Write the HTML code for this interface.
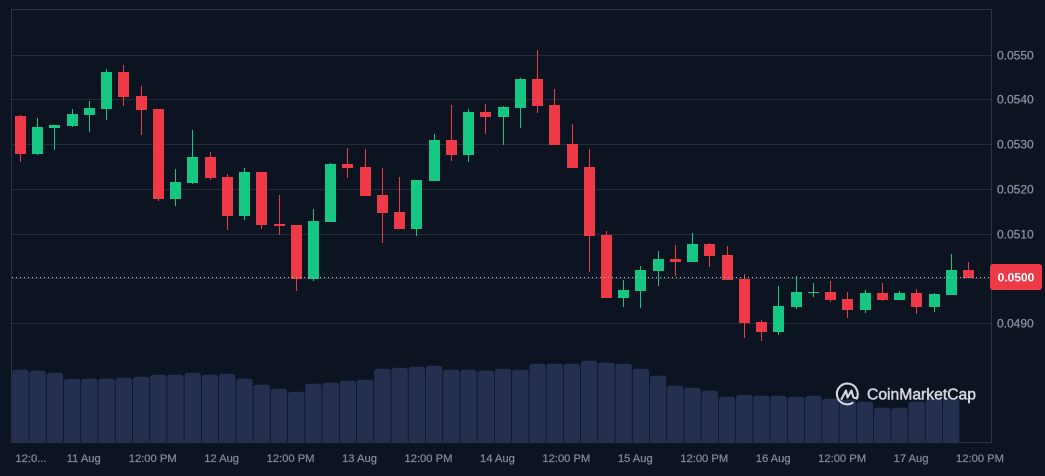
<!DOCTYPE html>
<html lang="en">
<head>
<meta charset="utf-8">
<title>Price chart</title>
<style>
html,body{margin:0;padding:0;background:#0d1421;}
body{width:1045px;height:476px;overflow:hidden;}
svg{display:block;font-family:"Liberation Sans",sans-serif;}
</style>
</head>
<body>
<svg id="chart" width="1045" height="476" viewBox="0 0 1045 476" xmlns="http://www.w3.org/2000/svg">
<rect width="1045" height="476" fill="#0d1421"/>
<g id="grid"></g>
<path d="M11.5 442.5V9.5H991.5V442.5H11.5" fill="none" stroke="#2b3340" stroke-width="1"/>
<g id="volumes"></g>
<g id="candles"></g>
<g id="ylabels"></g>
<g id="xlabels"></g>
<g id="current"></g>
<g>
<path d="M856.6 398.6A10.4 10.4 0 1 0 852.6 402.9" fill="none" stroke="#d3d7de" stroke-width="2.1" stroke-linecap="round"/>
<path d="M841.5 399L846 390.5L847.5 397.5L851.5 390.5L853 396.5Q854 399 857.5 397.5" fill="none" stroke="#d3d7de" stroke-width="2.1" stroke-linejoin="round" stroke-linecap="round"/>
<text x="867" y="399.5" font-size="15.5" fill="#d3d7de" stroke="#d3d7de" stroke-width="0.5" textLength="109" lengthAdjust="spacingAndGlyphs">CoinMarketCap</text>
</g>
</svg>
<script>
const opens = [0.053631,0.052783,0.053363,0.053408,0.053653,0.053787,0.054613,0.054077,0.053787,0.051778,0.052135,0.052716,0.052269,0.051399,0.052381,0.051220,0.051198,0.049993,0.051265,0.052559,0.052492,0.051867,0.051488,0.051109,0.052180,0.053095,0.052760,0.053720,0.053608,0.053809,0.054457,0.053876,0.053006,0.052492,0.050975,0.049568,0.049725,0.050171,0.050439,0.050372,0.050774,0.050528,0.049993,0.049033,0.048810,0.049368,0.049688,0.049702,0.049546,0.049301,0.049680,0.049524,0.049680,0.049368,0.049635,0.050193];
const highs = [0.053653,0.053586,0.053430,0.053787,0.053966,0.054680,0.054769,0.054300,0.053787,0.052448,0.053318,0.052827,0.052336,0.052470,0.052381,0.051867,0.051198,0.051555,0.052582,0.052916,0.052894,0.052470,0.052269,0.052202,0.053229,0.053876,0.053787,0.053899,0.053854,0.054479,0.055104,0.054233,0.053452,0.052894,0.051064,0.049970,0.050283,0.050618,0.050751,0.051019,0.050796,0.050729,0.050104,0.049077,0.049836,0.050060,0.049903,0.049948,0.049702,0.049747,0.049903,0.049725,0.049769,0.049680,0.050551,0.050372];
const lows = [0.052604,0.052760,0.052872,0.053385,0.053274,0.053541,0.053854,0.053207,0.051734,0.051622,0.052113,0.052202,0.051086,0.051309,0.051109,0.050975,0.049725,0.049948,0.051265,0.052247,0.051845,0.050796,0.051109,0.050952,0.052180,0.052626,0.052604,0.053229,0.052983,0.053363,0.053698,0.052983,0.052470,0.050149,0.049568,0.049368,0.049345,0.049836,0.050060,0.050372,0.050260,0.049970,0.048676,0.048609,0.048743,0.049323,0.049591,0.049479,0.049122,0.049234,0.049502,0.049524,0.049211,0.049256,0.049635,0.050015];
const closes = [0.052783,0.053385,0.053430,0.053675,0.053809,0.054613,0.054055,0.053765,0.051778,0.052158,0.052716,0.052247,0.051399,0.052381,0.051198,0.051176,0.049993,0.051287,0.052559,0.052470,0.051845,0.051466,0.051109,0.052202,0.053095,0.052760,0.053720,0.053608,0.053832,0.054457,0.053854,0.052983,0.052470,0.050952,0.049568,0.049747,0.050193,0.050439,0.050372,0.050774,0.050506,0.049970,0.049010,0.048810,0.049390,0.049702,0.049702,0.049524,0.049301,0.049680,0.049524,0.049680,0.049368,0.049658,0.050193,0.050015];
const volumes = [72.3,71.3,69.3,63.3,63.3,63.3,64.3,65.3,67.3,67.3,69.3,67.3,68.3,63.3,57.3,53.3,50.3,58.3,59.3,61.3,62.3,73.3,74.3,75.3,76.3,72.3,72.3,71.3,73.3,72.3,78.3,78.3,78.3,81.3,79.3,78.3,73.3,66.3,56.3,54.3,51.3,45.3,47.3,46.3,46.3,45.3,46.3,43.3,42.3,40.3,34.3,34.3,40.3,43.3,43.3];
const priceTicks = [0.055,0.054,0.053,0.052,0.051,0.05,0.049];
const timeLabels = ["12:0...","11 Aug","12:00 PM","12 Aug","12:00 PM","13 Aug","12:00 PM","14 Aug","12:00 PM","15 Aug","12:00 PM","16 Aug","12:00 PM","17 Aug","12:00 PM"];
const timeTickIndex = [0.62,3.68,7.68,11.68,15.68,19.68,23.68,27.68,31.68,35.68,39.68,43.68,47.68,51.68,55.68];
const currentPrice = 0.0500;
const currentPriceLevel = closes[closes.length - 1];

const NS = 'http://www.w3.org/2000/svg';
const GREEN = '#16c784';
const RED = '#ee3a46';
function px(i) { return 20.3 + 17.236 * i; }
function py(p) { return 278.4 - (p - 0.05) * 44750; }
function vy(v) { return 442 - v; }
function make(tag, parent) {
  const el = document.createElementNS(NS, tag);
  parent.appendChild(el);
  return el;
}

const gridG = document.getElementById('grid');
const yG = document.getElementById('ylabels');
priceTicks.forEach(function (t) {
  const y = Math.round(py(t));
  const line = make('line', gridG);
  
  
  line.setAttribute('x1', 12);
  line.setAttribute('x2', 991);
  line.setAttribute('y1', y + 0.5);
  line.setAttribute('y2', y + 0.5);
  line.setAttribute('stroke', '#252d39');
  if (t === currentPrice) return;
  const label = make('text', yG);
  
  
  label.setAttribute('x', 997);
  label.setAttribute('y', y + 4.5);
  label.setAttribute('font-size', '12');
  label.setAttribute('fill', '#858ea0');
  label.setAttribute('stroke', '#858ea0');
  label.setAttribute('stroke-width', '0.3');
  label.textContent = t.toFixed(4);
});

const volG = document.getElementById('volumes');
volumes.forEach(function (v, i) {
  const left = px(i) - 8.1;
  const w = 16.4;
  const top = vy(v);
  const bar = make('path', volG);
  
  
  bar.setAttribute('d', 'M' + left + ' 442V' + (top + 3) + 'Q' + left + ' ' + top + ' ' + (left + 3) + ' ' + top + 'H' + (left + w - 3) + 'Q' + (left + w) + ' ' + top + ' ' + (left + w) + ' ' + (top + 3) + 'V442Z');
  bar.setAttribute('fill', '#252f50');
});

const candleG = document.getElementById('candles');
opens.forEach(function (o, i) {
  const c = closes[i];
  const color = c >= o ? GREEN : RED;
  const left = Math.round(px(i) - 5.3);
  const wick = make('rect', candleG);
  
  
  const wt = Math.round(py(highs[i]));
  const wb = Math.round(py(lows[i]));
  wick.setAttribute('x', left + 5);
  wick.setAttribute('y', wt);
  wick.setAttribute('width', 1);
  wick.setAttribute('height', Math.max(1, wb - wt));
  wick.setAttribute('fill', color);
  const body = make('rect', candleG);
  
  
  const bt = Math.round(py(Math.max(o, c)));
  const bb = Math.round(py(Math.min(o, c)));
  body.setAttribute('x', left);
  body.setAttribute('y', bt);
  body.setAttribute('width', 11);
  body.setAttribute('height', Math.max(1, bb - bt));
  body.setAttribute('fill', color);
});

const xG = document.getElementById('xlabels');
timeLabels.forEach(function (t, i) {
  const label = make('text', xG);
  
  
  label.setAttribute('x', px(timeTickIndex[i]));
  label.setAttribute('y', 462);
  label.setAttribute('font-size', '11.2');
  label.setAttribute('text-anchor', 'middle');
  label.setAttribute('fill', '#7f8899');
  label.setAttribute('stroke', '#7f8899');
  label.setAttribute('stroke-width', '0.25');
  label.textContent = t;
});

const curG = document.getElementById('current');
const curY = Math.round(py(currentPriceLevel)) - 0.5;
const dots = make('line', curG);


dots.setAttribute('x1', 12);
dots.setAttribute('x2', 990);
dots.setAttribute('y1', curY);
dots.setAttribute('y2', curY);
dots.setAttribute('stroke', '#b5bbc5');
dots.setAttribute('stroke-width', '1');
dots.setAttribute('stroke-dasharray', '1 3');
const badge = make('rect', curG);


badge.setAttribute('x', 990);
badge.setAttribute('y', 264);
badge.setAttribute('width', 52);
badge.setAttribute('height', 26);
badge.setAttribute('rx', 3);
badge.setAttribute('fill', RED);
const badgeText = make('text', curG);


badgeText.setAttribute('x', 1016);
badgeText.setAttribute('y', 281.5);
badgeText.setAttribute('font-size', '12');
badgeText.setAttribute('font-weight', '700');
badgeText.setAttribute('text-anchor', 'middle');
badgeText.setAttribute('fill', '#ffffff');
badgeText.textContent = currentPrice.toFixed(4);
</script>
</body>
</html>
